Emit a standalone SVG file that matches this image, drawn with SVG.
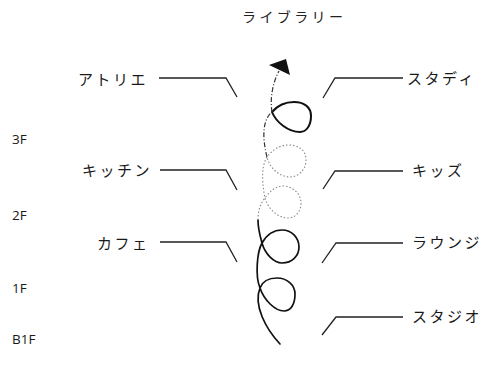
<svg xmlns="http://www.w3.org/2000/svg" width="489" height="369" viewBox="0 0 489 369">
<style>
.lbl{font-family:"Noto Sans CJK JP","Noto Sans",sans-serif;font-size:15px;letter-spacing:2.5px;fill:#1a1a1a}
.title{font-family:"Noto Sans CJK JP","Noto Sans",sans-serif;font-size:14px;letter-spacing:3.4px;fill:#222}
.floor{font-family:"Open Sans","Noto Sans",sans-serif;font-size:13.5px;fill:#1a1a1a}
.leader{fill:none;stroke:#222;stroke-width:1.3}
.solid{fill:none;stroke:#111;stroke-width:1.7;stroke-linecap:round}
.faint{fill:none;stroke:#888;stroke-width:1.1;stroke-dasharray:1.5 2}
.dashdot{fill:none;stroke:#333;stroke-width:1.2;stroke-dasharray:5 2 1 2}
</style>
<rect width="489" height="369" fill="#fff"/>
<g id="title"><text class="title" x="242" y="22">ライブラリー</text></g>
<g id="floors">
<text class="floor" x="12" y="144">3F</text>
<text class="floor" x="12" y="220">2F</text>
<text class="floor" x="12" y="293">1F</text>
<text class="floor" x="12" y="344">B1F</text>
</g>
<g id="atelier"><text class="lbl" x="78" y="85">アトリエ</text></g>
<g id="kitchen"><text class="lbl" x="82" y="176">キッチン</text></g>
<g id="cafe"><text class="lbl" x="97" y="248.5">カフェ</text></g>
<g id="study"><text class="lbl" x="407" y="84">スタディ</text></g>
<g id="kids"><text class="lbl" x="412" y="176">キッズ</text></g>
<g id="lounge"><text class="lbl" x="412" y="248">ラウンジ</text></g>
<g id="studio"><text class="lbl" x="412" y="322">スタジオ</text></g>
<g id="connectors">
<path class="leader" d="M159,78 H226 L237,97"/>
<path class="leader" d="M160,170 H226 L237,190"/>
<path class="leader" d="M160,242 H226 L237,262"/>
<path class="leader" d="M323,98 L335,78 H403"/>
<path class="leader" d="M323,189 L335,171 H403"/>
<path class="leader" d="M322,263 L336,243 H403"/>
<path class="leader" d="M322,335 L336,317 H403"/>
</g>
<g id="spiral">
<path class="solid" d="M280,344 C266,329 253,305 260,288 C263,280 269,278 277,278 C287,278 295,285 295,294 C295,304 291,311 284,311 C275,311 264,300 260,288 C255,276 257,252 262,243 C266,236 273,230 282,230 C292,230 299,238 299,247 C299,256 292,263 282,263 C274,263 265,254 262,243 C260,236 258,228 258,220"/>
<path class="faint" d="M258,220 C258,211 260,204 265,198 C270,191 276,186 283,186 C293,186 301,194 301,203 C301,212 295,218 288,218 C278,218 268,209 265,198 C263,188 260,168 267,157 C272,150 280,145 288,145 C299,145 306,150 306,160 C306,170 298,177 290,177 C280,177 270,169 267,157"/>
<path class="dashdot" d="M267,157 C264,145 260,122 272,112"/>
<path class="solid" style="stroke-width:2" d="M272,112 C278,105 286,102 294,102 C304,102 311,107 311,116 C311,126 306,132 300,132 C288,132 276,122 272,112"/>
<path class="dashdot" d="M272,112 C270,100 272,84 279,71"/>
<polygon points="286,59 269,65 290,75" fill="#111"/>
</g>
</svg>
